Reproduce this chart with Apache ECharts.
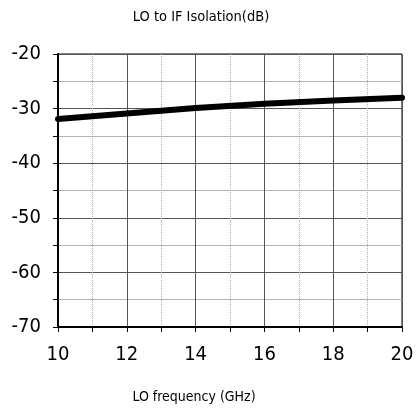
<!DOCTYPE html>
<html>
<head>
<meta charset="utf-8">
<script src="https://cdn.jsdelivr.net/npm/echarts@6/dist/echarts.min.js"></script>
<style>
html, body { margin: 0; padding: 0; background: #fff; }
#main { width: 418px; height: 409px; }
</style>
</head>
<body>
<div id="main"></div>
<script>
// LO frequency (GHz) vs isolation (dB)
var freqs = [10, 12, 14, 16, 18, 20];
var isolation = [-31.9, -30.9, -29.9, -29.1, -28.5, -28.0];
var yTicks = [-70, -60, -50, -40, -30, -20];

var font = 'DejaVu Sans Condensed, DejaVu Sans';
var myChart = echarts.init(document.getElementById('main'));

var option = {
    animation: false,
    title: [
        {
            text: 'LO to IF Isolation(dB)',
            left: 196, top: 5, textAlign: 'center',
            textStyle: { fontFamily: font, fontSize: 14.5, fontWeight: 'normal', color: '#000' }
        },
        {
            text: 'LO frequency (GHz)',
            left: 189, top: 385, textAlign: 'center',
            textStyle: { fontFamily: font, fontSize: 14, fontWeight: 'normal', color: '#000' }
        }
    ],
    grid: {
        left: 58, right: 16, top: 54, bottom: 82,
        show: true, borderColor: '#000', borderWidth: 1
    },
    xAxis: {
        type: 'value',
        min: 10, max: 20, interval: 2,
        axisLine: { lineStyle: { color: '#000', width: 2 } },
        axisTick: { show: true, length: 5, lineStyle: { color: '#000' } },
        minorTick: { show: true, splitNumber: 2, length: 5, lineStyle: { color: '#000' } },
        axisLabel: { fontFamily: font, fontSize: 20, color: '#000', margin: 18 },
        splitLine: { show: true, lineStyle: { color: '#555', width: 1 } },
        minorSplitLine: { show: true, lineStyle: { color: '#b0b0b0', type: 'dotted', width: 1 } }
    },
    yAxis: {
        type: 'value',
        min: yTicks[0], max: yTicks[yTicks.length - 1], interval: 10,
        axisLine: { show: true, lineStyle: { color: '#000', width: 2 } },
        axisTick: { show: true, length: 5, lineStyle: { color: '#000' } },
        minorTick: { show: true, splitNumber: 2, length: 5, lineStyle: { color: '#000' } },
        axisLabel: { fontFamily: font, fontSize: 20, color: '#000', margin: 17 },
        splitLine: { show: true, lineStyle: { color: '#555', width: 1 } },
        minorSplitLine: { show: true, lineStyle: { color: '#b4b4b4', width: 1 } }
    },
    series: [
        {
            type: 'line',
            data: freqs.map(function (f, i) { return [f, isolation[i]]; }),
            showSymbol: false,
            lineStyle: { color: '#000', width: 6, cap: 'round' }
        }
    ]
};

myChart.setOption(option);
</script>
</body>
</html>
